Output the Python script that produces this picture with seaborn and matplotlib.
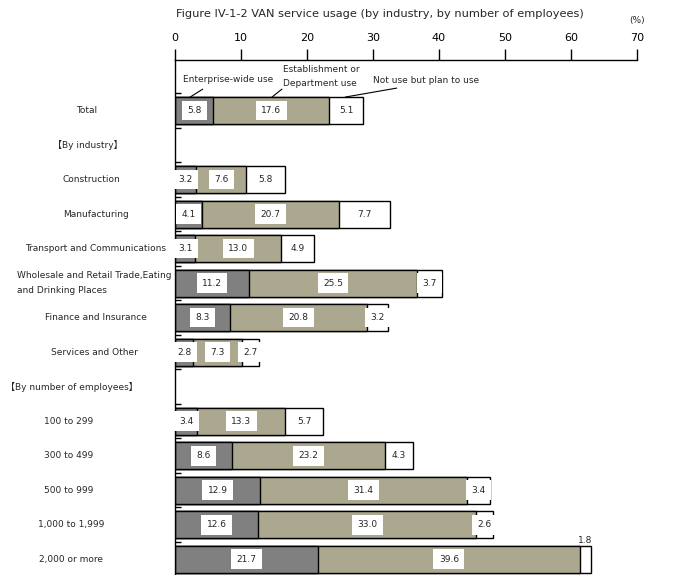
import numpy as np
import pandas as pd
import matplotlib
matplotlib.use("Agg")
import matplotlib.pyplot as plt
import matplotlib.transforms as mtrans
import seaborn as sns

nan = np.nan
rows = ["Total", "【By industry】", "Construction", "Manufacturing",
        "Transport and Communications",
        "Wholesale and Retail Trade,Eating\nand Drinking Places",
        "Finance and Insurance", "Services and Other",
        "【By number of employees】", "100 to 299", "300 to 499",
        "500 to 999", "1,000 to 1,999", "2,000 or more"]
enterprise = [5.8, nan, 3.2, 4.1, 3.1, 11.2, 8.3, 2.8, nan, 3.4, 8.6, 12.9, 12.6, 21.7]
establishment = [17.6, nan, 7.6, 20.7, 13.0, 25.5, 20.8, 7.3, nan, 13.3, 23.2, 31.4, 33.0, 39.6]
plan = [5.1, nan, 5.8, 7.7, 4.9, 3.7, 3.2, 2.7, nan, 5.7, 4.3, 3.4, 2.6, 1.8]
xticks = [0, 10, 20, 30, 40, 50, 60, 70]

# label x centres in pixels (layout only)
label_x = [87, 88, 91, 96, 96, 17, 96, 94, 72, 69, 69, 69, 71, 71]

GRAY = "#808080"
TAN = "#aca890"

sns.set_style("white")
plt.rcParams['font.family'] = ['DejaVu Sans', 'Noto Sans CJK JP']

df = pd.DataFrame({"row": rows, "ent": enterprise, "est": establishment, "plan": plan})
df["c1"] = df["ent"]
df["c2"] = df["ent"] + df["est"]
df["c3"] = df["c2"] + df["plan"]

W, H = 682, 575
fig = plt.figure(figsize=(W / 100, H / 100), dpi=100)
ax = fig.add_axes([175 / W, 0.0, (637 - 175) / W, 1 - 60 / H])

# stacked bars by overlaying cumulative totals
for col, colr in [("c3", "white"), ("c2", TAN), ("c1", GRAY)]:
    sns.barplot(data=df, x=col, y="row", order=rows, orient="h", color=colr,
                saturation=1, edgecolor="black", linewidth=1.0, width=0.78,
                errorbar=None, ax=ax)

ax.set_xlim(0, 70)
ax.set_ylim(13.46, -1.464)
ax.set_xlabel("")
ax.set_ylabel("")
ax.xaxis.tick_top()
ax.set_xticks(xticks)
ax.set_xticklabels([str(t) for t in xticks], fontsize=8)
ax.tick_params(axis="x", direction="out", length=8, width=1, pad=4, colors="black")
ax.set_yticks(np.arange(-0.5, 13, 1.0))
ax.set_yticklabels([])
ax.tick_params(axis="y", direction="in", length=4, width=1, colors="black", left=True)
for s in ["right", "bottom"]:
    ax.spines[s].set_visible(False)
for s in ["top", "left"]:
    ax.spines[s].set_color("black")
    ax.spines[s].set_linewidth(1)

# category labels
tr = mtrans.blended_transform_factory(fig.transFigure, ax.transData)
for i, (name, lx) in enumerate(zip(rows, label_x)):
    ha = "left" if "\n" in name else "center"
    ax.text(lx / W, i, name, transform=tr, ha=ha, va="center",
            fontsize=6.5, linespacing=1.9)

# value labels
for i in range(len(rows)):
    vals = [enterprise[i], establishment[i], plan[i]]
    if np.isnan(vals[0]):
        continue
    left = 0
    for v in vals:
        cx = left + v / 2
        if v < 2:
            ax.text(cx, i - 0.55, f"{v:.1f}", ha="center", va="center", fontsize=6.5)
        else:
            ax.text(cx, i, f"{v:.1f}", ha="center", va="center", fontsize=6.5,
                    bbox=dict(boxstyle="square,pad=0.6", fc="white", ec="none"))
        left += v

# legend callouts on the Total bar
ax.text(1.2, -0.91, "Enterprise-wide use", fontsize=6.5, ha="left", va="center")
ax.plot([2.3, 4.2], [-0.39, -0.62], color="black", lw=0.8)
ax.text(16.4, -0.985, "Establishment or\nDepartment use", fontsize=6.5,
        ha="left", va="center", linespacing=1.6)
ax.plot([14.7, 16.2], [-0.39, -0.62], color="black", lw=0.8)
ax.plot([5.8, 23.2], [-0.40, -0.40], color="black", lw=0.8, ls=(0, (1, 1.5)))
ax.text(30.0, -0.88, "Not use but plan to use", fontsize=6.5, ha="left", va="center")
ax.plot([25.8, 33.6], [-0.39, -0.65], color="black", lw=0.8)

fig.text(380 / W, 1 - 14 / H,
         "Figure IV-1-2 VAN service usage (by industry, by number of employees)",
         ha="center", va="center", fontsize=8.2)
fig.text(637 / W, 1 - 20 / H, "(%)", ha="center", va="center", fontsize=6.5)

fig.savefig("out.png", dpi=100)
